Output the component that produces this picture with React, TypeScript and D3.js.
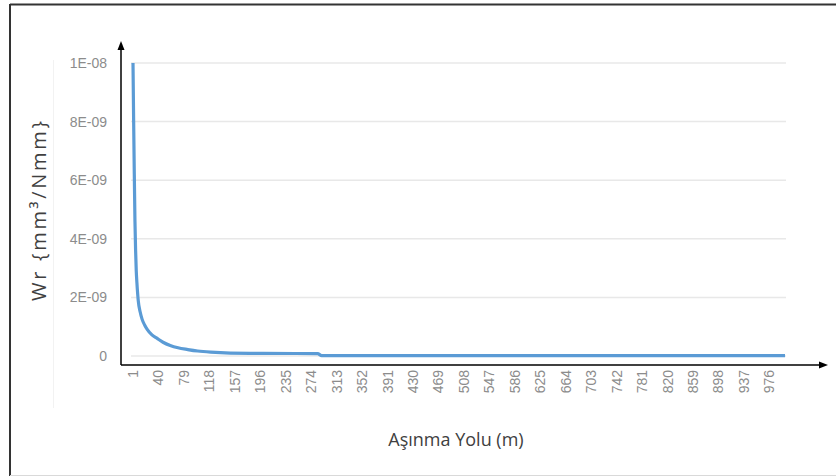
import React from "react";
import * as d3 from "d3";

const distances = [1, 2, 3, 4, 5, 6, 7, 9, 12, 15, 19, 23, 30, 38, 47, 58, 70, 85, 100, 120, 150, 200, 250, 284, 290, 400, 600, 800, 1000];
const wearRates = [1e-8, 8.0e-9, 6.2e-9, 4.6e-9, 3.6e-9, 2.9e-9, 2.5e-9, 1.9e-9, 1.5e-9, 1.25e-9, 1.05e-9, 0.9e-9, 0.72e-9, 0.6e-9, 0.47e-9, 0.36e-9, 0.28e-9, 0.22e-9, 0.17e-9, 0.13e-9, 0.1e-9, 0.09e-9, 0.085e-9, 0.08e-9, 0.015e-9, 0.012e-9, 0.01e-9, 0.01e-9, 0.01e-9];

const xTickValues = [1, 40, 79, 118, 157, 196, 235, 274, 313, 352, 391, 430, 469, 508, 547, 586, 625, 664, 703, 742, 781, 820, 859, 898, 937, 976];
const yTickValues = [0, 2e-9, 4e-9, 6e-9, 8e-9, 1e-8];
const yTickLabels = ["0", "2E-09", "4E-09", "6E-09", "8E-09", "1E-08"];

const xTitle = "Aşınma Yolu (m)";
const yTitle = "Wr {mm³/Nmm}";

export default function App() {
  const W = 836;
  const H = 476;
  const x = d3.scaleLinear().domain([1, 1000]).range([133, 785]);
  const y = d3.scaleLinear().domain([0, 1e-8]).range([356, 63]);
  const pts = distances.map((d, i) => [d, wearRates[i]] as [number, number]);
  const line = d3
    .line<[number, number]>()
    .x((p) => x(p[0]))
    .y((p) => y(p[1]))
    .curve(d3.curveMonotoneX);

  const gridX0 = 131;
  const gridX1 = 786;
  const axisY = 365;
  const axisX = 121;

  return (
    <svg
      width={W}
      height={H}
      style={{ position: "absolute", left: 0, top: 0, background: "#fff" }}
      fontFamily="'Open Sans', 'Liberation Sans', sans-serif"
    >
      <rect x={0} y={0} width={W} height={H} fill="#fff" />
      {/* frame */}
      <line x1={10} y1={4.5} x2={W} y2={4.5} stroke="#333" strokeWidth={2} />
      <line x1={10} y1={4} x2={10} y2={H} stroke="#333" strokeWidth={2} />
      <line x1={10} y1={475.5} x2={W} y2={475.5} stroke="#d9d9d9" strokeWidth={1} />
      <line x1={53.5} y1={60} x2={53.5} y2={408} stroke="#f2f2f2" strokeWidth={1} />

      {/* gridlines */}
      {yTickValues.map((v) => (
        <line key={"g" + v} x1={gridX0} x2={gridX1} y1={y(v)} y2={y(v)} stroke="#e8e8e8" strokeWidth={1.5} />
      ))}

      {/* y tick labels */}
      {yTickValues.map((v, i) => (
        <text
          key={"yl" + v}
          x={107}
          y={y(v)}
          dy="0.35em"
          textAnchor="end"
          fontSize={14}
          fill="#8c8c8c"
          fontFamily="'Liberation Sans', Arial, sans-serif"
        >
          {yTickLabels[i]}
        </text>
      ))}

      {/* x tick labels */}
      {xTickValues.map((v) => (
        <text
          key={"xl" + v}
          transform={`translate(${x(v) + 5},${axisY + 5}) rotate(-90)`}
          textAnchor="end"
          fontSize={14}
          fill="#8c8c8c"
          fontFamily="'Liberation Sans', Arial, sans-serif"
        >
          {v}
        </text>
      ))}

      {/* data line */}
      <path d={line(pts) || ""} fill="none" stroke="#5b9bd5" strokeWidth={3.2} strokeLinejoin="round" />

      {/* axes with arrows */}
      <line x1={axisX} y1={axisY} x2={axisX} y2={48} stroke="#000" strokeWidth={1.5} />
      <path d={`M${axisX},41 L${axisX - 3.5},50 L${axisX + 3.5},50 Z`} fill="#000" />
      <line x1={axisX} y1={axisY} x2={820} y2={axisY} stroke="#000" strokeWidth={1.5} />
      <path d={`M828,${axisY} L819,${axisY - 3.5} L819,${axisY + 3.5} Z`} fill="#000" />

      {/* titles */}
      <text x={456} y={446} textAnchor="middle" fontSize={18} fill="#404040">
        {xTitle}
      </text>
      <text
        transform={`translate(46,211) rotate(-90)`}
        textAnchor="middle"
        fontSize={20}
        fill="#404040"
        textLength={180}
        lengthAdjust="spacing"
      >
        {yTitle}
      </text>
    </svg>
  );
}
